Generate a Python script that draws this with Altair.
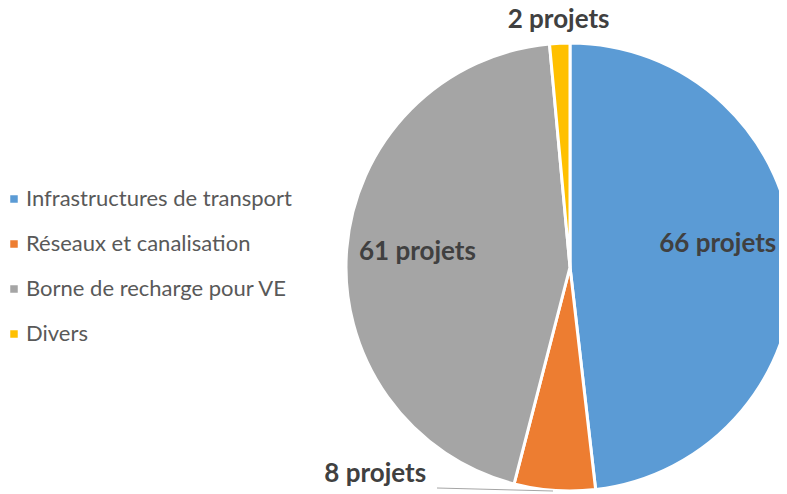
import altair as alt
import pandas as pd

categories = ["Infrastructures de transport", "Réseaux et canalisation",
              "Borne de recharge pour VE", "Divers"]
counts = [66, 8, 61, 2]
labels = ["66 projets", "8 projets", "61 projets", "2 projets"]
colors = ["#5B9BD5", "#ED7D31", "#A5A5A5", "#FFC000"]

df = pd.DataFrame({"cat": categories, "count": counts, "label": labels,
                   "idx": list(range(len(categories)))})

CX, CY, R = 562, 259, 224
FONT = "Lato"

pie = alt.Chart(df).mark_arc(outerRadius=R, stroke="white", strokeWidth=3).encode(
    theta=alt.Theta("count:Q", stack=True),
    order=alt.Order("idx:Q"),
    color=alt.Color("cat:N", sort=categories,
                    scale=alt.Scale(domain=categories, range=colors),
                    legend=alt.Legend(title=None, orient="none", legendX=-5, legendY=180,
                                      symbolType="square", symbolSize=81,
                                      labelFontSize=22, labelFont=FONT,
                                      labelColor="#595959", rowPadding=23,
                                      labelOffset=1, padding=0, labelLimit=400)),
    x=alt.value(CX), y=alt.value(CY),
)

base_txt = alt.Chart(df).transform_joinaggregate(
    total="sum(count)"
).transform_window(
    cum="sum(count)", sort=[alt.SortField("idx")], frame=[None, 0]
).transform_calculate(
    mid="(datum.cum - datum.count/2) / datum.total * 2 * PI"
)

def lab(i, radius, dx, dy):
    return base_txt.transform_filter(alt.datum.idx == i).mark_text(
        radius=radius, dx=dx, dy=dy, font=FONT, fontSize=26, fontWeight="bold",
        color="#404040", baseline="middle", align="center"
    ).encode(
        theta=alt.Theta("mid:Q", scale=None),
        text="label:N",
        x=alt.value(CX), y=alt.value(CY),
    )

leader = alt.Chart(df).mark_rule(color="#A5A5A5", strokeWidth=1).encode(
    x=alt.value(429), x2=alt.value(545), y=alt.value(480), y2=alt.value(483)
).transform_filter(alt.datum.idx == 1)

chart = alt.layer(
    pie, leader,
    lab(0, 150, -2, -14),
    lab(1, 230, -179, -22),
    lab(2, 152, -1, -3),
    lab(3, 249, 0, 2),
).properties(
    width=771, height=484, padding=0,
    autosize=alt.AutoSizeParams(type="none"),
).configure_view(stroke=None)

chart.save("out.html", embed_options={"renderer": "svg", "actions": False})
